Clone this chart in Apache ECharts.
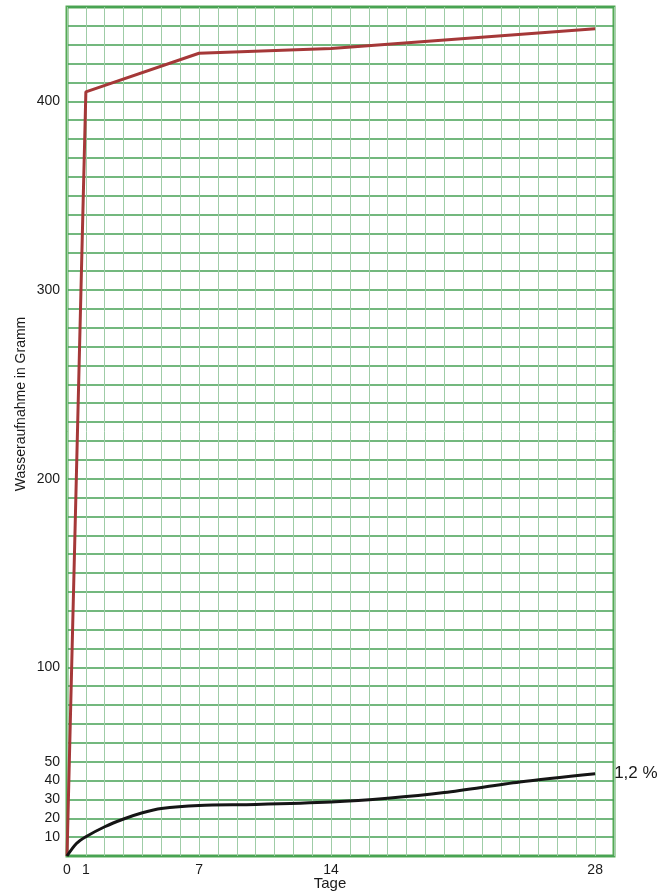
<!DOCTYPE html>
<html>
<head>
<meta charset="utf-8">
<script src="https://cdn.jsdelivr.net/npm/echarts@6/dist/echarts.min.js"></script>
<style>
  html, body { margin: 0; padding: 0; background: #fff; }
  #chart { width: 672px; height: 896px; }
</style>
</head>
<body>
<div id="chart"></div>
<script>
// Days on which a value was read, and water uptake in grams
const redDays   = [0, 1, 7, 14, 28];
const redValues = [0, 405, 425.5, 428, 438.5];

const blackDays   = [0, 0.5, 1, 2, 3, 4, 5, 7, 10, 14, 17, 20, 24, 28];
const blackValues = [0, 6.6, 10.2, 15.5, 19.6, 22.9, 25.2, 26.8, 27.3, 28.6, 30.6, 33.6, 39.2, 43.6];

const xTickLabels = [0, 1, 7, 14, 28];
const yTickLabels = [10, 20, 30, 40, 50, 100, 200, 300, 400];

const endLabelText = '1,2 %';
const xTitle = 'Tage';
const yTitle = 'Wasseraufnahme in Gramm';

const font = '"Liberation Sans", Arial, sans-serif';

const chart = echarts.init(document.getElementById('chart'), null, { renderer: 'canvas' });

const pairs = (xs, ys) => xs.map((x, i) => [x, ys[i]]);

chart.setOption({
  animation: false,
  backgroundColor: '#ffffff',
  grid: {
    left: 67, right: 58, top: 7, bottom: 40,
    show: true,
    borderColor: '#55aa55',
    borderWidth: 3,
    backgroundColor: 'transparent'
  },
  xAxis: {
    type: 'value',
    min: 0, max: 29, interval: 1,
    axisLine: { show: false },
    axisTick: { show: false },
    axisLabel: {
      margin: 7,
      fontFamily: font, fontSize: 14, color: '#1a1a1a',
      showMaxLabel: false,
      formatter: v => (xTickLabels.includes(v) ? String(v) : '')
    },
    splitLine: { show: true, lineStyle: { color: '#9fcca7', width: 1 } }
  },
  yAxis: {
    type: 'value',
    min: 0, max: 450, interval: 10,
    axisLine: { show: false },
    axisTick: { show: false },
    axisLabel: {
      margin: 7,
      fontFamily: font, fontSize: 14, color: '#1a1a1a',
      formatter: v => (yTickLabels.includes(v) ? String(v) : '')
    },
    splitLine: { show: true, lineStyle: { color: '#45a053', width: 1.5 } }
  },
  graphic: [
    {
      type: 'text',
      x: 21, y: 404,
      rotation: Math.PI / 2,
      style: {
        text: yTitle,
        fontFamily: font, fontSize: 14,
        fill: '#1a1a1a',
        align: 'center', verticalAlign: 'middle'
      }
    },
    {
      type: 'text',
      x: 330, y: 884,
      style: {
        text: xTitle,
        fontFamily: font, fontSize: 15,
        fill: '#1a1a1a',
        align: 'center', verticalAlign: 'middle'
      }
    }
  ],
  series: [
    {
      type: 'line',
      data: pairs(redDays, redValues),
      showSymbol: false,
      lineStyle: { color: '#a53838', width: 3 },
      z: 3
    },
    {
      type: 'line',
      data: pairs(blackDays, blackValues),
      showSymbol: false,
      smooth: 0.3,
      lineStyle: { color: '#151515', width: 3 },
      endLabel: {
        show: true,
        formatter: endLabelText,
        distance: 19,
        fontFamily: font, fontSize: 17,
        color: '#1a1a1a'
      },
      z: 4
    }
  ]
});
</script>
</body>
</html>
